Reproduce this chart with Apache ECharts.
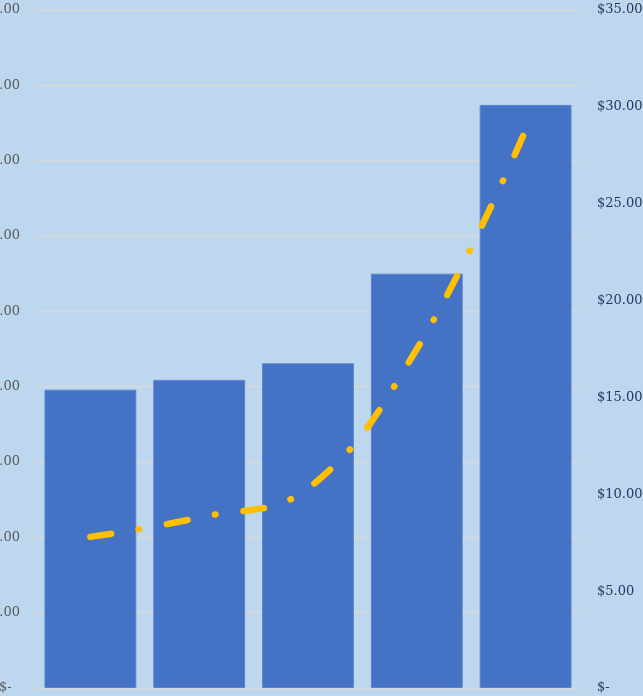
<!DOCTYPE html>
<html>
<head>
<meta charset="utf-8">
<script src="https://cdn.jsdelivr.net/npm/echarts@6/dist/echarts.min.js"></script>
<style>
  html, body { margin: 0; padding: 0; background: #BDD7EE; }
  #chart { width: 643px; height: 696px; }
</style>
</head>
<body>
<div id="chart"></div>
<script>
// categories (labels are cropped off in the picture)
const categories = ['1', '2', '3', '4', '5']
// bars, read on the left axis
const barValues = [39.6, 40.9, 43.1, 55.0, 77.4]
// dashed line, read on the right axis
const lineValues = [7.8, 8.8, 10.3, 17.5, 28.8]

const serif = "'DejaVu Serif', serif"

function money(v) {
  return v === 0 ? '$-  ' : '$' + v.toFixed(2)
}

const chart = echarts.init(document.getElementById('chart'))
chart.setOption({
  backgroundColor: '#BDD7EE',
  animation: false,
  grid: { left: 36, right: 63, top: 10, bottom: 8, containLabel: false, outerBoundsMode: 'none' },
  xAxis: {
    type: 'category',
    data: categories,
    axisLine: { show: false },
    axisTick: { show: false },
    axisLabel: { show: false }
  },
  yAxis: [
    {
      type: 'value',
      min: 0,
      max: 90,
      interval: 10,
      axisLine: { show: false },
      axisTick: { show: false },
      splitLine: { lineStyle: { color: '#D9D9D9', width: 1.3 } },
      axisLabel: {
        margin: 16,
        color: '#595959',
        fontFamily: serif,
        fontSize: 13,
        formatter: money
      }
    },
    {
      type: 'value',
      min: 0,
      max: 35,
      interval: 5,
      axisLine: { show: false },
      axisTick: { show: false },
      splitLine: { show: false },
      axisLabel: {
        margin: 17,
        color: '#1F3864',
        fontFamily: serif,
        fontSize: 13,
        formatter: v => (v === 0 ? '$-' : '$' + v.toFixed(2))
      }
    }
  ],
  series: [
    {
      type: 'bar',
      yAxisIndex: 0,
      data: barValues,
      barCategoryGap: '15.6%',
      itemStyle: { color: '#4472C4', borderColor: '#5A84CE', borderWidth: 1 }
    },
    {
      type: 'line',
      yAxisIndex: 1,
      data: lineValues,
      smooth: 0.4,
      symbol: 'none',
      z: 5,
      lineStyle: {
        color: '#FFC000',
        width: 6.5,
        cap: 'round',
        type: [21, 28, 0.5, 28]
      }
    }
  ]
})
</script>
</body>
</html>
